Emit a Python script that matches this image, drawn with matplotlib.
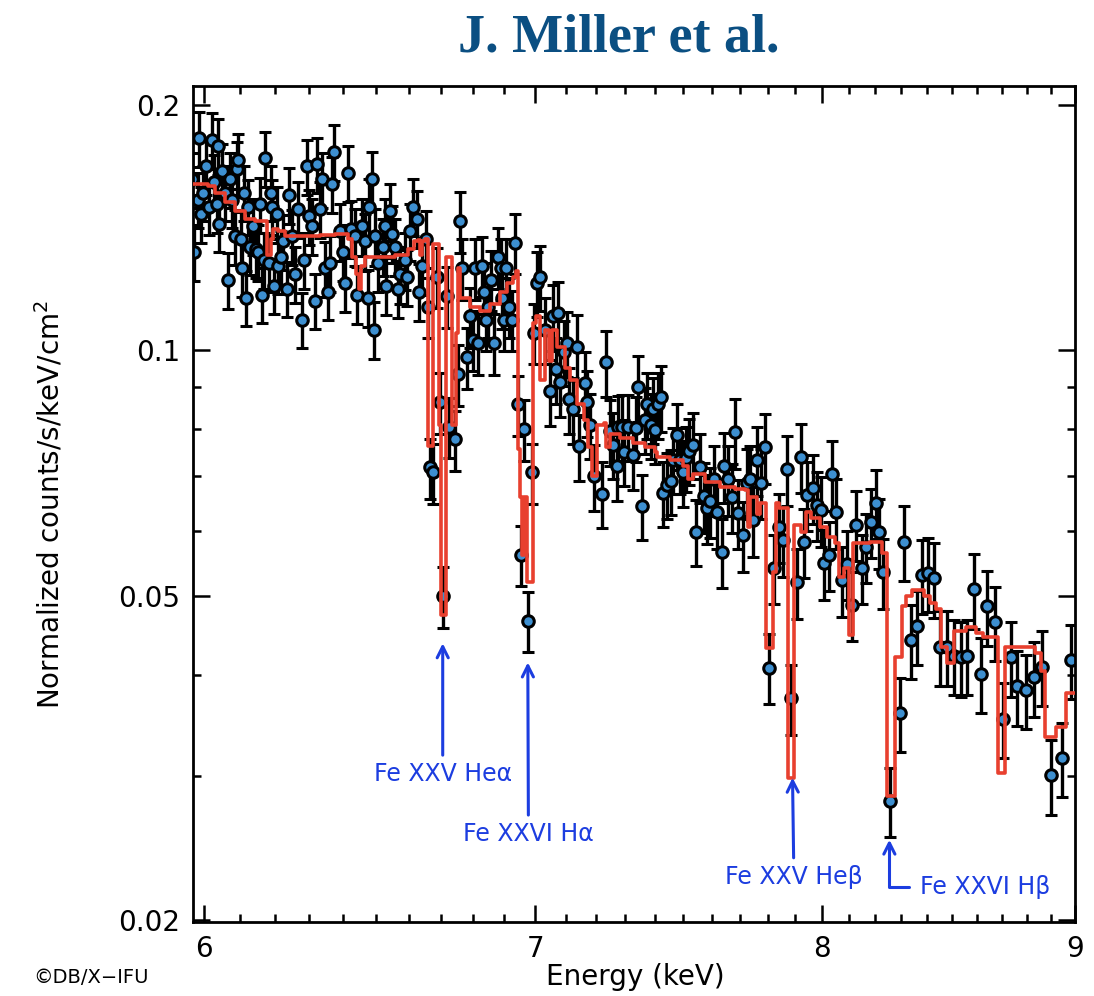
import numpy as np
import matplotlib
matplotlib.use('Agg')
import matplotlib.pyplot as plt
from matplotlib.ticker import FixedLocator, FixedFormatter, NullFormatter

# ---------------- data ----------------
# 6.0 - 6.38 keV continuum
e_600 = [5.967, 5.972, 5.983, 5.986, 5.992, 5.997, 6.006, 6.014, 6.023, 6.028,
         6.036, 6.039, 6.042, 6.050, 6.059, 6.067, 6.073, 6.079, 6.087, 6.093,
         6.096, 6.104, 6.107, 6.113, 6.119, 6.124, 6.130, 6.139, 6.147, 6.153,
         6.158, 6.164, 6.170, 6.173, 6.184, 6.190, 6.193, 6.199, 6.207, 6.210,
         6.219, 6.224, 6.236, 6.242, 6.251, 6.260, 6.268, 6.280, 6.286, 6.294,
         6.300, 6.309, 6.318, 6.324, 6.333, 6.339, 6.348, 6.357, 6.362, 6.368, 6.375]
f_600 = [0.162, 0.132, 0.153, 0.182, 0.147, 0.156, 0.168, 0.150, 0.181, 0.161,
         0.151, 0.178, 0.143, 0.166, 0.156, 0.122, 0.162, 0.153, 0.138, 0.167,
         0.171, 0.137, 0.126, 0.156, 0.116, 0.150, 0.134, 0.142, 0.133, 0.132,
         0.151, 0.117, 0.129, 0.172, 0.128, 0.156, 0.150, 0.120, 0.147, 0.127,
         0.130, 0.136, 0.119, 0.155, 0.138, 0.124, 0.149, 0.109, 0.129, 0.168,
         0.146, 0.142, 0.115, 0.169, 0.149, 0.162, 0.126, 0.118, 0.128, 0.160, 0.175]

# 6.38 - 6.65 keV
e_640 = [6.392, 6.400, 6.406, 6.415, 6.424, 6.436, 6.442, 6.458, 6.467, 6.476,
         6.479, 6.488, 6.494, 6.497, 6.506, 6.521, 6.527, 6.530, 6.542, 6.548,
         6.557, 6.566, 6.573, 6.588, 6.594, 6.603, 6.613, 6.625, 6.631, 6.640, 6.653]
f_640 = [0.140, 0.132, 0.121, 0.165, 0.141, 0.138, 0.117, 0.142, 0.136, 0.116,
         0.150, 0.162, 0.106, 0.138, 0.128, 0.134, 0.142, 0.120, 0.148, 0.139,
         0.134, 0.119, 0.124, 0.129, 0.123, 0.140, 0.150, 0.145, 0.118, 0.127, 0.137]

# Fe XXV He-alpha / Fe XXVI H-alpha region
e_680 = [6.659, 6.665, 6.674, 6.687, 6.696, 6.706, 6.718, 6.724, 6.743, 6.752,
         6.759, 6.765, 6.781, 6.790, 6.800, 6.806, 6.816, 6.828, 6.834, 6.841,
         6.847, 6.857, 6.866, 6.879, 6.889, 6.892, 6.898, 6.905, 6.914, 6.924,
         6.934, 6.944, 6.953, 6.963, 6.976, 6.989, 6.995]
f_680 = [0.113, 0.0718, 0.0708, 0.123, 0.0863, 0.0499, 0.1165, 0.0806, 0.0777, 0.0934,
         0.144, 0.126, 0.098, 0.110, 0.103, 0.126, 0.102, 0.127, 0.118, 0.109,
         0.113, 0.122, 0.102, 0.130, 0.126, 0.116, 0.109, 0.126, 0.113, 0.109,
         0.1355, 0.0858, 0.0561, 0.080, 0.0466, 0.0708, 0.105]

# 7.0 - 7.55 keV
e_700 = [7.005, 7.015, 7.031, 7.048, 7.058, 7.067, 7.074, 7.081, 7.094, 7.104,
         7.110, 7.123, 7.137, 7.143, 7.163, 7.170, 7.180, 7.193, 7.220, 7.234,
         7.247, 7.257, 7.271, 7.274, 7.288, 7.294, 7.308, 7.325, 7.335, 7.342,
         7.356, 7.366, 7.373, 7.387, 7.393, 7.400, 7.411, 7.421, 7.428, 7.442,
         7.456, 7.463, 7.477, 7.487, 7.497, 7.508, 7.518, 7.532, 7.543]
f_700 = [0.121, 0.123, 0.106, 0.089, 0.110, 0.0947, 0.111, 0.0913, 0.0994, 0.102,
         0.087, 0.0846, 0.101, 0.0762, 0.0911, 0.0863, 0.0809, 0.070, 0.0667, 0.0966,
         0.0795, 0.0766, 0.072, 0.0804, 0.0806, 0.0751, 0.0806, 0.0743, 0.0802, 0.090,
         0.0644, 0.0822, 0.0858, 0.0809, 0.0846, 0.0799, 0.0858, 0.0875, 0.0668, 0.0684,
         0.0691, 0.0734, 0.0786, 0.0734, 0.0708, 0.0738, 0.0753, 0.0766, 0.0599]

# 7.55 - 8.26 keV (He-beta, H-beta)
e_780 = [7.557, 7.571, 7.582, 7.592, 7.606, 7.620, 7.635, 7.642, 7.656, 7.670,
         7.681, 7.692, 7.710, 7.724, 7.735, 7.746, 7.760, 7.775, 7.789, 7.804,
         7.822, 7.840, 7.855, 7.869, 7.887, 7.906, 7.921, 7.935, 7.946, 7.965,
         7.980, 7.995, 8.006, 8.028, 8.039, 8.054, 8.073, 8.092, 8.111, 8.126,
         8.149, 8.164, 8.183, 8.202, 8.217, 8.232, 8.259]
f_780 = [0.0719, 0.0662, 0.0641, 0.0653, 0.0694, 0.0633, 0.0566, 0.072, 0.0694, 0.0661,
         0.0793, 0.0632, 0.0593, 0.0688, 0.0694, 0.0619, 0.0734, 0.0688, 0.076, 0.0408,
         0.0541, 0.0607, 0.0585, 0.0714, 0.0374, 0.0519, 0.074, 0.0582, 0.0665, 0.0678,
         0.0646, 0.0636, 0.0548, 0.0561, 0.0704, 0.0633, 0.0522, 0.0547, 0.0487, 0.0611,
         0.0541, 0.0574, 0.0616, 0.065, 0.0598, 0.0534, 0.028]

# 8.29 - 9.0 keV
e_860 = [8.294, 8.313, 8.340, 8.363, 8.383, 8.406, 8.429, 8.453, 8.481, 8.508,
         8.536, 8.560, 8.588, 8.616, 8.640, 8.672, 8.705, 8.737, 8.762, 8.798,
         8.831, 8.864, 8.901, 8.947, 8.985]
f_860 = [0.0359, 0.0582, 0.0441, 0.0459, 0.053, 0.0533, 0.0525, 0.0433, 0.0433, 0.0422,
         0.042, 0.0422, 0.0509, 0.0401, 0.0485, 0.0464, 0.0353, 0.042, 0.0387, 0.0383,
         0.0397, 0.0409, 0.0301, 0.0316, 0.0417]

# relative 1-sigma error bar size in each block above
rel_err = [0.078, 0.080, 0.085, 0.092, 0.098, 0.105]

# model (step, left bin edges)
model_e = [5.969, 6.011, 6.031, 6.059, 6.087, 6.115, 6.144, 6.178, 6.190, 6.196,
           6.210, 6.230, 6.274, 6.333, 6.377, 6.415, 6.427, 6.439, 6.448, 6.455,
           6.467, 6.512, 6.557, 6.597, 6.615, 6.628, 6.634, 6.640, 6.649, 6.659,
           6.674, 6.693, 6.699, 6.715, 6.734, 6.746, 6.752, 6.759, 6.790, 6.822,
           6.854, 6.886, 6.908, 6.927, 6.937, 6.944, 6.950, 6.957, 6.963, 6.973,
           6.992, 7.002, 7.015, 7.031, 7.044, 7.054, 7.071, 7.097, 7.114, 7.137,
           7.160, 7.173, 7.187, 7.203, 7.227, 7.234, 7.247, 7.281, 7.325, 7.366,
           7.400, 7.407, 7.452, 7.497, 7.515, 7.532, 7.575, 7.628, 7.681, 7.720,
           7.728, 7.738, 7.760, 7.771, 7.793, 7.818, 7.829, 7.843, 7.876, 7.895,
           7.924, 7.939, 7.961, 7.991, 8.020, 8.047, 8.062, 8.084, 8.103, 8.118,
           8.179, 8.228, 8.244, 8.278, 8.302, 8.321, 8.344, 8.391, 8.414, 8.437,
           8.457, 8.481, 8.508, 8.556, 8.596, 8.624, 8.684, 8.713, 8.835, 8.860,
           8.876, 8.922, 8.963]
model_f = [0.160, 0.159, 0.156, 0.152, 0.148, 0.145, 0.144, 0.131, 0.137, 0.141,
           0.140, 0.138, 0.138, 0.1385, 0.139, 0.137, 0.130, 0.124, 0.119, 0.127,
           0.130, 0.130, 0.131, 0.133, 0.136, 0.1365, 0.131, 0.136, 0.137, 0.0762,
           0.135, 0.081, 0.0473, 0.130, 0.081, 0.105, 0.126, 0.116, 0.113, 0.1117,
           0.114, 0.118, 0.121, 0.123, 0.125, 0.0756, 0.066, 0.056, 0.066, 0.052,
           0.108, 0.110, 0.092, 0.106, 0.097, 0.106, 0.101, 0.095, 0.092, 0.086,
           0.082, 0.076, 0.070, 0.081, 0.0815, 0.076, 0.079, 0.078, 0.077, 0.076,
           0.075, 0.074, 0.0734, 0.072, 0.0694, 0.0705, 0.069, 0.068, 0.0676, 0.0674,
           0.0607, 0.066, 0.063, 0.065, 0.0431, 0.0534, 0.065, 0.064, 0.0299, 0.0611,
           0.0598, 0.0634, 0.0623, 0.0607, 0.059, 0.058, 0.0527, 0.054, 0.0447, 0.058,
           0.0582, 0.0564, 0.0284, 0.042, 0.0486, 0.050, 0.0508, 0.050, 0.049, 0.0481,
           0.0432, 0.0413, 0.0453, 0.0457, 0.045, 0.0445, 0.0303, 0.0432, 0.0425, 0.0404,
           0.0335, 0.0345, 0.038]

# line labels: (text, arrow x, arrow tip y, text x, text y)
lines = [
    ('Fe XXV Heα', 6.705, 0.0437, 6.705, 0.0302),
    ('Fe XXVI Hα', 6.976, 0.0414, 6.978, 0.0255),
    ('Fe XXV Heβ', 7.891, 0.0299, 7.896, 0.0226),
]
hb_label = ('Fe XXVI Hβ', 8.255, 0.0251, 8.375, 0.02195)

# ---------------- build arrays ----------------
blocks_e = [e_600, e_640, e_680, e_700, e_780, e_860]
blocks_f = [f_600, f_640, f_680, f_700, f_780, f_860]
energy = np.concatenate([np.array(b) for b in blocks_e])
flux = np.concatenate([np.array(b) for b in blocks_f])
rel = np.concatenate([np.full(len(b), r) for b, r in zip(blocks_e, rel_err)])
yerr = flux * rel

mod_x = np.append(model_e, 9.0)
mod_y = np.append(model_f, model_f[-1])

# ---------------- figure ----------------
fig = plt.figure(figsize=(10.94, 9.96), dpi=100)
ax = fig.add_axes([0.1764, 0.0738, 0.8062, 0.8399])
ax.set_xscale('log')
ax.set_yscale('log')

ax.errorbar(energy, flux, yerr=yerr, fmt='o', ms=8.3, mfc='#3d8fd0', mec='black',
            mew=2.2, ecolor='black', elinewidth=2.4, capsize=4, capthick=2.4, zorder=2)
ax.step(mod_x, mod_y, where='post', color='#e8402f', lw=2.6, zorder=3)

ax.set_xlim(5.969, 9.0)
ax.set_ylim(0.01986, 0.2109)

# ticks
ax.xaxis.set_major_locator(FixedLocator([6, 7, 8, 9]))
ax.xaxis.set_major_formatter(FixedFormatter(['6', '7', '8', '9']))
ax.xaxis.set_minor_locator(FixedLocator(np.round(np.arange(6.1, 9.0, 0.1), 1)))
ax.xaxis.set_minor_formatter(NullFormatter())
ax.yaxis.set_major_locator(FixedLocator([0.02, 0.05, 0.1, 0.2]))
ax.yaxis.set_major_formatter(FixedFormatter(['0.02', '0.05', '0.1', '0.2']))
ax.yaxis.set_minor_locator(FixedLocator([0.03, 0.04, 0.06, 0.07, 0.08, 0.09]))
ax.yaxis.set_minor_formatter(NullFormatter())

ax.tick_params(which='both', direction='in', top=True, right=True, width=1.8,
               labelsize=20, pad=9)
ax.tick_params(which='major', length=12)
ax.tick_params(which='minor', length=6)
for s in ax.spines.values():
    s.set_linewidth(2.0)

ax.set_xlabel('Energy (keV)', fontsize=20)
ax.set_ylabel('Normalized counts/s/keV/cm$^2$', fontsize=20)
ax.xaxis.set_label_coords(0.501, -0.048)
ax.yaxis.set_label_coords(-0.145, 0.5)

# line annotations
blue = '#1c3de0'
for txt, ax_x, tip_y, tx, ty in lines:
    ax.annotate(txt, xy=(ax_x, tip_y), xytext=(tx, ty), ha='center', va='center',
                color=blue, fontsize=17,
                arrowprops=dict(arrowstyle='->', color=blue, lw=2.2,
                                shrinkA=3, shrinkB=0, mutation_scale=20))
txt, ax_x, tip_y, tx, ty = hb_label
ax.annotate(txt, xy=(ax_x, tip_y), xytext=(tx, ty), ha='left', va='center',
            color=blue, fontsize=17,
            arrowprops=dict(arrowstyle='->', color=blue, lw=2.2, shrinkA=6, shrinkB=0,
                            mutation_scale=20,
                            connectionstyle='angle,angleA=0,angleB=90,rad=0'))

# title and credit
fig.text(0.5658, 0.9478, 'J. Miller et al.', ha='center', va='baseline',
         fontsize=39, fontweight='bold', family='Liberation Serif', color='#0b4f82')
fig.text(0.030, 0.019, '©DB/X\u2212IFU', fontsize=14, va='center', ha='left')

fig.savefig('out.png', dpi=100)
